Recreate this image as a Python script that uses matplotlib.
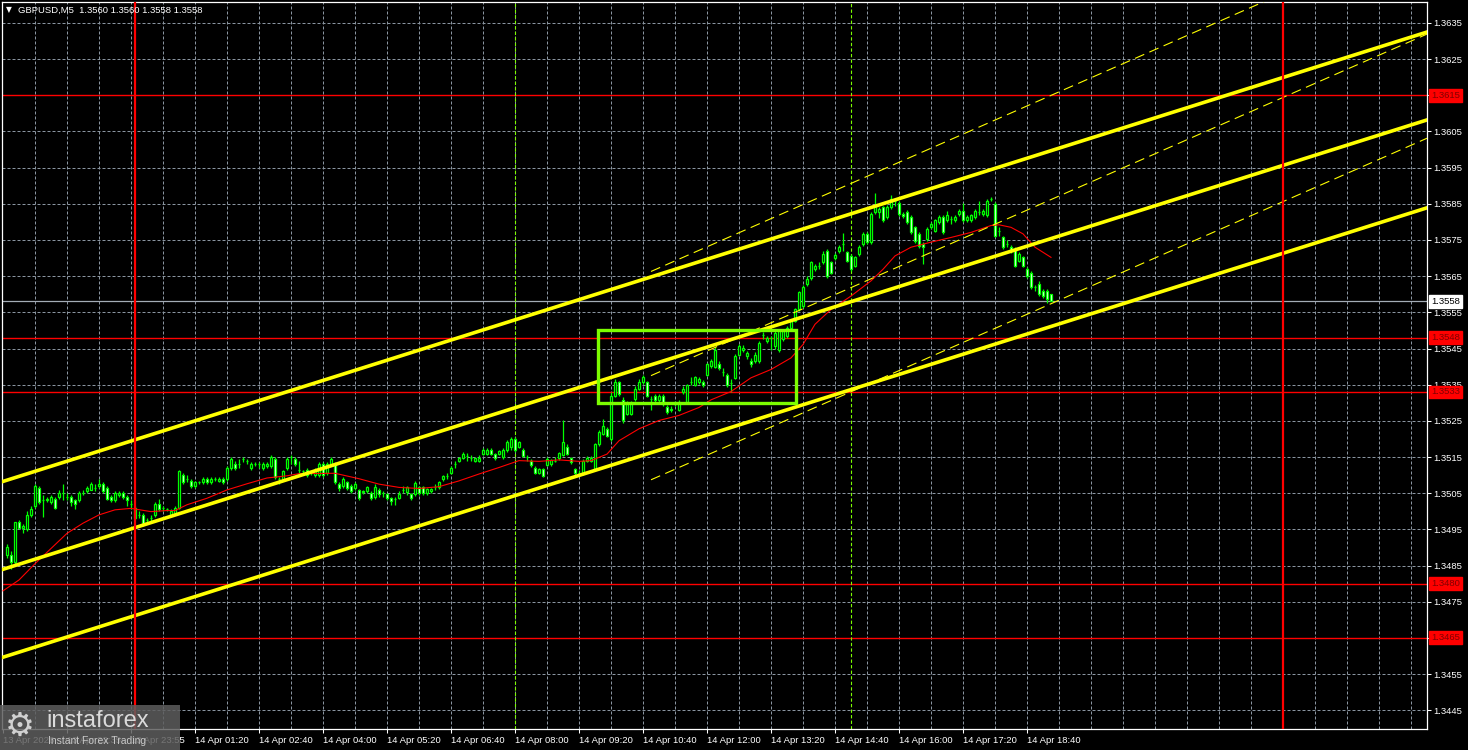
import matplotlib
matplotlib.use('Agg')
import numpy as np
import matplotlib.pyplot as plt
import matplotlib.transforms as mtransforms
from matplotlib.patches import Rectangle

plt.rcParams['font.family'] = ['Liberation Sans', 'DejaVu Sans']

BASE = 1.3500
PIP = 0.0001

# GBPUSD M5 candles, in pips above 1.3500 (bar 0 = first bar on the chart)
opens = [
    -12, -12, -14, -3, -4.5, -5, -1, 1.5, 6.5, 3,
    3, 2.5, 3.5, 4, 5, 4, 4, 3, 3, 5,
    5.5, 6, 6.5, 7, 7.5, 6.5, 4, 3, 4.5, 5,
    4, 2, 1, -1, -1, -2.5, -2, -1, 2, 1,
    0.5, -1, -0.5, 1, 10, 9, 8.5, 7, 8, 8,
    9, 8, 9, 8.5, 9, 9, 12, 13, 13, 14.5,
    14, 12, 13, 13, 12, 12.5, 12.5, 14.5, 9, 9,
    12, 15, 14.5, 11.5, 11, 11.5, 10.5, 10, 10, 13,
    10.5, 13, 13, 7.5, 7, 8, 7, 6.5, 5.8,
    5.5, 5.6, 5, 4, 5.8, 5, 4.7, 3.8, 3.3, 3.8,
    6, 5.2, 4.7, 4.7, 6.6, 6.6, 5, 5.5, 6.6, 6.6,
    8.9, 9.8, 10.7, 13, 13.8, 14.7, 15.4, 14.6, 13.8, 13.8,
    15.8, 15.8, 16.9, 15.8, 15.8, 14.9, 16.9, 17.7, 20, 17.9,
    16.9, 14.9, 14, 12, 10.7, 11.7, 12.9, 13, 14, 14.7,
    15.6, 17.9, 14.7, 11.7, 10.7, 10.3, 14, 14, 11.7, 18.6,
    21.4, 22.8, 20, 32, 35.7, 30.8, 27, 27, 31, 33.9,
    35.7, 35.7, 31, 32, 30.8, 32, 28.8, 28.1, 29.7, 28.1,
    33, 30.2, 35.7, 34.8, 35.7, 35.6, 37.8, 40.1, 40, 40.7,
    38.5, 37.8, 35.5, 36.9, 43.3, 44.7, 42.9, 41.5, 41.5, 41.5,
    48.7, 47, 47.8, 45.6, 44.7, 47.5, 48.4, 50.7, 52.6, 55.8,
    56.7, 62.8, 64.4, 67, 67.9, 68.8, 71.9, 68.8, 70, 72,
    74, 71.6, 70.6, 67.9, 71.1, 73.9, 76.7, 74.4, 82.7, 82.7,
    84.1, 81.3, 84.1, 85.7, 85.2, 82.2, 82.7, 81.3, 78.5, 76.7,
    73.9, 75.3, 78.5, 77.6, 79.9, 81.3, 80.4, 80.8, 80.4, 82.2,
    83.1, 80.4, 80.4, 81.3, 82.7, 82.2, 81.8, 86.4, 85, 77.6,
    75.7, 73.9, 73, 72.5, 69.3, 70.2, 67, 66, 61.9, 62.8,
    60.9, 60.9, 60,
]
highs = [
    -9, -11, -3, -2.5, -3.5, 0, 1.5, 7.5, 7, 4.5,
    4, 4.5, 4, 6, 7.5, 5, 4.5, 3.5, 5.5, 6,
    7, 8, 7.5, 9, 8, 7, 4.5, 5.5, 5.5, 5.5,
    4.5, 3, 1.5, 0, -0.5, -2, -1, 2.5, 3.5, 1.5,
    1, 0.5, 1.5, 11.5, 10.5, 10, 9, 8.5, 8.5, 9.5,
    9.5, 9.5, 9.5, 9.5, 9.5, 12.5, 15, 14, 14.5, 15,
    14.5, 13.5, 13.5, 13.5, 13.5, 13.5, 15.5, 15, 9.5, 11.5,
    15, 15.5, 15, 14, 11.5, 12, 11, 12, 13.5, 13.5,
    13.5, 15, 13.5, 8, 9.5, 8.5, 7.5, 8, 6.2,
    6, 7, 5.5, 7.5, 6.5, 5.5, 5, 4, 4, 5.5,
    7, 7, 5, 8.5, 7, 7, 6.5, 6.5, 7.5, 8.5,
    10, 10.5, 12.5, 14, 15, 16.3, 16, 15.5, 15, 15.5,
    17.5, 17.5, 17.5, 16, 17, 17.5, 19.8, 20.5, 20.5, 19.5,
    17.5, 15.5, 14.5, 12.5, 12, 12, 15, 14.5, 15, 16.5,
    25.1, 18.5, 15, 12, 11.5, 14.5, 15.3, 15.3, 19, 22.5,
    25.6, 23.3, 33, 36.5, 36, 31.5, 30.5, 30.5, 34.5, 36.5,
    37.8, 36, 32, 32.5, 32.5, 32.5, 29.3, 29, 30.5, 30.7,
    34.5, 35.3, 37, 37.5, 37, 36.2, 41, 42, 45.5, 41.5,
    39.5, 38.2, 36.5, 43.5, 46.2, 46, 44.3, 42.5, 44, 47.2,
    49.5, 48.5, 48.5, 50, 50.5, 50.5, 51.2, 53, 56.3, 61,
    62.5, 65, 69.3, 68.5, 69, 72, 72.5, 69.3, 71.5, 73.6,
    76.9, 72, 71, 70.7, 73.5, 77.2, 77.2, 82.7, 88, 84.1,
    84.5, 84.6, 87.5, 86.5, 85.7, 82.7, 83.2, 81.8, 79, 77.2,
    74.4, 78.6, 80, 80.9, 81.8, 81.8, 83, 81.5, 82, 83.6,
    85.2, 81.8, 82.3, 83.6, 85.9, 83.6, 86.4, 87, 85.5, 78.5,
    76.2, 75, 73.5, 73, 71.6, 70.7, 67.5, 66.5, 62.5, 63.6,
    61.4, 61.4, 60,
]
lows = [
    -13, -16, -15, -5, -6, -5.5, -1.5, 1, 2, -1.5,
    2.5, 2, 0.5, 3.5, 3, 3, 1.5, 0.5, 2.5, 4.5,
    5, 6, 5.5, 6.5, 5, 3, 2.5, 2.5, 4, 3.5,
    1.5, 0.5, -2.5, -2, -4, -3.5, -3, -1.5, 0, 0,
    0, -1.5, -1, 0.5, 7.5, 8, 6.5, 6.5, 7.5, 7.5,
    7.5, 7.5, 8.5, 8, 7.5, 8.5, 11.5, 11.5, 12, 13.5,
    13, 11.5, 12.5, 12, 11.5, 12, 12, 9, 7.5, 8.5,
    11.5, 13, 12.5, 10.5, 10.5, 9.5, 10, 9.5, 9.5, 9.5,
    10, 12.5, 7.5, 5.5, 6.5, 6, 5, 6, 3,
    4.7, 5, 3, 3.5, 4, 4, 3, 1.8, 1.8, 3.5,
    5, 4.5, 3.2, 4.2, 4.5, 4.5, 4.5, 5, 6, 6.2,
    8.5, 9, 10.3, 12, 13.5, 14.5, 13.9, 14, 13.5, 13.5,
    15.5, 15.5, 15.5, 14.2, 15.5, 14.5, 16.5, 17, 16.5, 17.5,
    15, 14, 12.3, 10.3, 10.3, 9.5, 12.5, 12.5, 13.5, 14.2,
    15.2, 15.5, 13, 9.8, 9.8, 10, 13.5, 13.5, 11.3, 18,
    21, 20.5, 19.5, 31.5, 32, 24.5, 26.5, 26.5, 30.5, 33.5,
    35.2, 31.5, 28, 30, 30, 29, 27, 27.5, 29, 27.7,
    32.5, 29.8, 35, 34.5, 35.3, 34.3, 37.3, 39.5, 39.5, 39,
    37.5, 34.3, 33.1, 36.5, 42.8, 44, 42, 40, 41, 41,
    47.5, 46.5, 44.5, 45, 44, 47, 48, 50.2, 52.2, 55.4,
    56.3, 62.3, 64, 66.5, 67, 68.3, 64.6, 65.5, 69.5, 71.5,
    72, 68.8, 66.5, 67.4, 70.6, 73.4, 73.9, 73.9, 82.2, 81,
    80, 80.8, 83.6, 84.5, 81.7, 81, 79.4, 76.6, 74.3, 72.9,
    68.3, 74.8, 78, 77.1, 79.4, 76.6, 80, 79.5, 79.9, 81.7,
    80, 79.9, 79.9, 80.8, 82, 81.7, 81.3, 85.9, 75.7, 76,
    72.5, 73, 71.5, 67.4, 68.8, 67.4, 64.6, 61.4, 61, 59.5,
    59, 57.7, 58,
]
closes = [
    -10, -14, -3, -4.5, -4, -1, 0.5, 7, 2.5, 3,
    3.5, 4, 1, 5, 5, 4, 2.5, 2, 5, 5,
    6.5, 7.5, 6.5, 7.5, 5.5, 3.5, 3, 5, 5, 4,
    3, 2, -2, -1, -3.5, -2.5, -2, 2, 0.5, 1,
    0.5, 0, 1, 11, 8, 9, 7, 8, 8, 9,
    8, 9, 9, 9, 8, 12, 14.5, 12, 13, 14.5,
    14, 13, 13, 13, 13, 13, 15, 9.5, 9, 11,
    14.5, 15, 13, 11.5, 11, 10, 10.5, 11.5, 13, 10,
    13, 14.5, 8, 6.5, 9, 6.5, 5.5, 7.5, 3.8,
    5.3, 6.6, 3.6, 6.8, 4.7, 5, 3.8, 2.9, 3.3, 4.7,
    6, 6.6, 3.6, 7.7, 5, 5, 6.1, 6.1, 6.6, 8,
    9.8, 9.8, 11.9, 13, 14.7, 15.8, 15.4, 14.6, 14.7, 14.7,
    16.9, 16.9, 15.8, 14.7, 16.7, 16.9, 19.1, 20, 16.8, 19.1,
    15.4, 14.9, 12.9, 10.7, 11.7, 9.8, 14.4, 14.2, 14, 16,
    19.1, 15.8, 13.5, 10.7, 10.7, 14, 14.7, 14.7, 18.6, 21.9,
    23.7, 20.9, 32, 35.7, 32.5, 25.1, 29.7, 30, 33.9, 35.7,
    37.1, 32, 31, 30.8, 32, 29.7, 27.4, 28.4, 29.7, 30.2,
    33.9, 34.8, 35.7, 37, 36.6, 34.8, 40.6, 41.5, 44.7, 39.6,
    38.5, 34.8, 35.5, 42.9, 45.6, 45.2, 43.8, 40.7, 43.3, 46.6,
    48.7, 47.9, 47.8, 49.4, 50, 49.8, 50.7, 52.6, 55.8, 60.5,
    61.9, 64.2, 68.8, 67.9, 67.9, 71, 65.1, 66, 70.9, 73.1,
    74, 69.3, 67, 70.2, 73, 76.7, 74.4, 82.2, 84.3, 83.6,
    80.4, 84.1, 86.4, 85.7, 82.2, 81.5, 79.9, 77.1, 74.8, 73.4,
    73, 78.1, 79.4, 80.4, 81.3, 77.1, 81.8, 80.8, 81.3, 83.1,
    80.4, 81.3, 81.8, 83.1, 82.7, 83.1, 85.9, 86.4, 76.2, 77.6,
    73, 73.9, 72, 67.9, 71.1, 67.9, 65.1, 61.9, 61.9, 60,
    59.5, 58.6, 58,
]

# red moving average (bar index, pips above 1.3500)
ma_bars = [-1, 3, 7, 11, 15, 19, 23, 27, 31, 36, 40, 42, 45, 50, 55, 60, 65, 70, 73, 82,
           88, 93, 98, 103, 108, 113, 118, 123, 128, 133, 138, 143, 146, 150, 153, 158, 163, 168, 173, 176,
           181, 186, 191, 196, 199, 202, 206, 211, 216, 219, 222, 226, 231, 236, 241, 246, 248, 251, 254, 257,
           261]
ma_pips = [-22, -19, -14.5, -10.3, -6.1, -3.3, -1, 0.4, 0.8, -0.1, 0.2, 0.2, 1.8, 3.6, 5.9, 7.6, 9.2, 9.8, 10.4, 10.5,
           9.0, 7.5, 6.6, 6.3, 6.8, 8.4, 10.3, 12.1, 14, 13.8, 14.2, 13.8, 14, 15.8, 19.5, 22.8, 25.1, 26.5, 28.7, 30.8,
           33.1, 36.9, 39.2, 42.4, 46.1, 51.7, 55.8, 59.5, 63.7, 66.9, 70.6, 73, 74.4, 75.7, 77.1, 79, 79.2, 78.5, 76.7, 73,
           70.2]

# horizontal levels and markers
levels = [1.3615, 1.3548, 1.3533, 1.3480, 1.3465]
bid = 1.3558
day_lines = [32, 319]
session_lines = [127, 211]
box_bars = [147.75, 197.25]
box_prices = [1.3530, 1.3550]

# yellow parallel channel (middle line through two bars, +- half width, in pips)
chan_bars = [0, 300]
chan_mid = [-15.7, 89.0]
chan_half = 24.3
# thin dashed regression channel starting at reg_bars[0]
reg_bars = [161, 350]
reg_mid = [37.5, 129.5]
reg_half = 28.8

xtick_bars = [-1, 15, 31, 47, 63, 79, 95, 111, 127, 143, 159, 175, 191, 207, 223, 239, 255]
xtick_labels = ['13 Apr 2026', '13 Apr 22:35', '13 Apr 23:55', '14 Apr 01:20', '14 Apr 02:40',
                '14 Apr 04:00', '14 Apr 05:20', '14 Apr 06:40', '14 Apr 08:00', '14 Apr 09:20',
                '14 Apr 10:40', '14 Apr 12:00', '14 Apr 13:20', '14 Apr 14:40', '14 Apr 16:00',
                '14 Apr 17:20', '14 Apr 18:40']
ytick_vals = [1.3445, 1.3455, 1.3465, 1.3475, 1.3485, 1.3495, 1.3505, 1.3515, 1.3525, 1.3535,
              1.3545, 1.3555, 1.3565, 1.3575, 1.3585, 1.3595, 1.3605, 1.3615, 1.3625, 1.3635]

W, H = 1468, 750
LIME = '#00ff00'
GRID = '#8a95a0'
FS = 6.8

fig = plt.figure(figsize=(W / 100, H / 100), dpi=100, facecolor='black')
ax = fig.add_axes([2 / W, 21 / H, 1425 / W, 727 / H], facecolor='black')
x_left, x_right = -1.25, 355
ax.set_xlim(x_left, x_right)
ax.set_ylim(BASE - 60.2 * PIP, BASE + 140.8 * PIP)

# grid
for b in range(7, int(x_right) + 1, 8):
    ax.axvline(b, color=GRID, lw=0.72, ls=(0, (3, 2)), zorder=0)
for v in ytick_vals:
    ax.axhline(v, color=GRID, lw=0.72, ls=(0, (3, 2)), zorder=0)

# levels
for v in levels:
    ax.axhline(v, color='#ff0000', lw=1.0, zorder=2)
ax.axhline(bid, color='#a3acb5', lw=0.9, zorder=2)
for s in session_lines:
    ax.axvline(s, color='#7cfc00', lw=0.8, ls=(0, (3, 2)), zorder=2)

# candles
o = BASE + np.array(opens) * PIP
h = BASE + np.array(highs) * PIP
l = BASE + np.array(lows) * PIP
c = BASE + np.array(closes) * PIP
x = np.arange(len(c))
ax.vlines(x, l, h, color=LIME, lw=0.9, zorder=4)
up = c >= o
ax.bar(x[up], (c - o)[up], bottom=o[up], width=0.5, facecolor='black',
       edgecolor=LIME, linewidth=0.9, zorder=5)
ax.bar(x[~up], (o - c)[~up], bottom=c[~up], width=0.5, facecolor='white',
       edgecolor=LIME, linewidth=0.9, zorder=5)

# moving average
ax.plot(ma_bars, BASE + np.array(ma_pips) * PIP, color='#ff0000', lw=0.8, zorder=6)

# yellow channel
for off in (-chan_half, 0, chan_half):
    ax.axline((chan_bars[0], BASE + (chan_mid[0] + off) * PIP),
              (chan_bars[1], BASE + (chan_mid[1] + off) * PIP),
              color='#ffff00', lw=2.6, zorder=7)

# dashed regression channel
slope = (reg_mid[1] - reg_mid[0]) / (reg_bars[1] - reg_bars[0])
xs = np.array([reg_bars[0], x_right])
for off in (-reg_half, 0, reg_half):
    ys = BASE + (reg_mid[0] + off + slope * (xs - reg_bars[0])) * PIP
    ax.plot(xs, ys, color='#ffff00', lw=0.8, ls=(0, (9, 5)), zorder=7)

# day separators
for d in day_lines:
    ax.axvline(d, color='#ff0000', lw=1.6, zorder=8)

# green box
ax.add_patch(Rectangle((box_bars[0], box_prices[0]), box_bars[1] - box_bars[0],
                       box_prices[1] - box_prices[0], fill=False,
                       edgecolor='#7cfc00', linewidth=2.4, zorder=9))

# axes styling
for sp in ax.spines.values():
    sp.set_color('white')
    sp.set_linewidth(0.9)
ax.yaxis.tick_right()
ax.set_yticks(ytick_vals)
ax.set_yticklabels([f'{v:.4f}' for v in ytick_vals])
ax.set_xticks(xtick_bars)
ax.set_xticklabels(xtick_labels, ha='left')
ax.tick_params(axis='both', colors='white', labelsize=FS, length=3, width=0.75, pad=1.5)
ax.tick_params(axis='x', pad=2)

# price tags on the right axis
trans = mtransforms.blended_transform_factory(ax.transAxes, ax.transData)
for v in levels:
    ax.text(1 + 4 / 1425, v, f'{v:.4f}', transform=trans, ha='left', va='center',
            fontsize=FS, color='#800000', clip_on=False, zorder=20,
            bbox=dict(boxstyle='square,pad=0.2', fc='#ff0000', ec='#ff0000'))
ax.text(1 + 4 / 1425, bid, f'{bid:.4f}', transform=trans, ha='left', va='center',
        fontsize=FS, color='black', clip_on=False, zorder=20,
        bbox=dict(boxstyle='square,pad=0.2', fc='white', ec='white'))

# header
fig.text(6 / W, 1 - 10 / H, '\u25bc', color='white', fontsize=5.5, va='center',
         family=['DejaVu Sans'])
fig.text(18 / W, 1 - 10 / H, 'GBPUSD,M5  1.3560 1.3560 1.3558 1.3558', color='white',
         fontsize=6.8, va='center')

# watermark
fig.add_artist(Rectangle((0, 0), 180 / W, 45 / H, transform=fig.transFigure,
                         facecolor='#5e5e5e', alpha=0.85, edgecolor='none', zorder=30))
fig.text(5 / W, 1 - 726 / H, '\u2699', color='#d0d0d0', fontsize=24, va='center',
         family=['DejaVu Sans'], zorder=31)
fig.text(46 / W, 1 - 721 / H, 'instaforex', color='#dadada', fontsize=17, va='center',
         zorder=31)
fig.text(48 / W, 1 - 741 / H, 'Instant Forex Trading', color='#c8c8c8', fontsize=7.5,
         va='center', zorder=31)

fig.savefig('out.png', dpi=100, facecolor='black')
